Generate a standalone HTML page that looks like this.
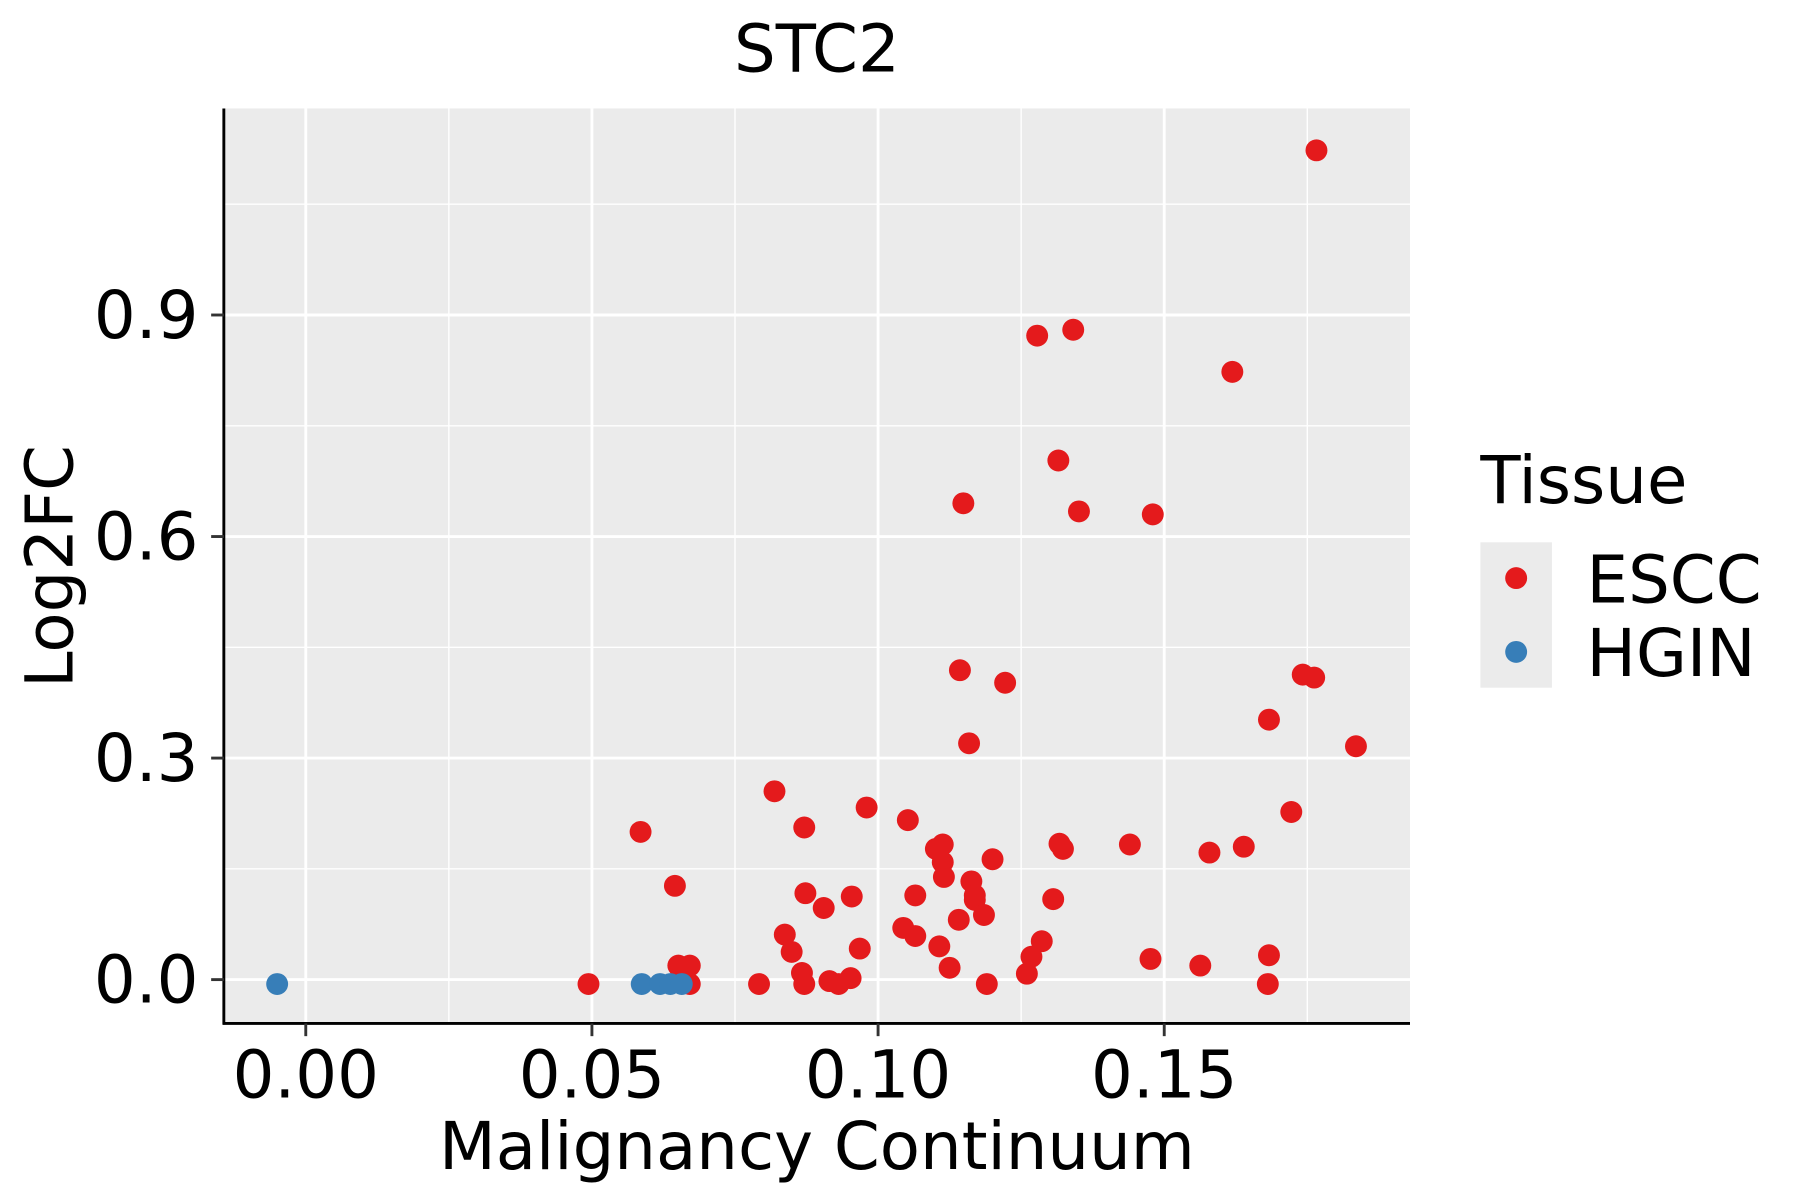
<!DOCTYPE html>
<html><head><meta charset="utf-8"><style>
html,body{margin:0;padding:0;background:#fff;}
svg{display:block;font-family:"DejaVu Sans","Liberation Sans",sans-serif;}
</style></head><body>
<svg id="chart" width="1800" height="1200" viewBox="0 0 1560 1040" xmlns="http://www.w3.org/2000/svg">
<rect width="1560" height="1040" fill="#fff"/>
<rect x="194" y="94" width="1028" height="793" fill="#EBEBEB"/>
<g id="grid"></g>
<g id="points"></g>
<line x1="194" y1="94" x2="194" y2="888" stroke="#000" stroke-width="2.5"/>
<line x1="193" y1="887" x2="1222" y2="887" stroke="#000" stroke-width="2.5"/>
<g id="ticks"></g>
<text x="708" y="62" font-size="57" text-anchor="middle">STC2</text>
<text x="708" y="1013" font-size="57" text-anchor="middle">Malignancy Continuum</text>
<text transform="translate(63,491) rotate(-90)" font-size="57" text-anchor="middle">Log2FC</text>
<g>
<text x="1283" y="436" font-size="57">Tissue</text>
<rect x="1283" y="470" width="62" height="126" fill="#EBEBEB"/>
<circle cx="1314" cy="501" r="9.5" fill="#E41A1C"/>
<circle cx="1314" cy="565" r="9.5" fill="#377EB8"/>
<text x="1375" y="522" font-size="57">ESCC</text>
<text x="1375" y="586" font-size="57">HGIN</text>
</g>
<script>
const xTicks=[0,0.05,0.10,0.15];
const xTickLabels=["0.00","0.05","0.10","0.15"];
const yTicks=[0,0.3,0.6,0.9];
const yTickLabels=["0.0","0.3","0.6","0.9"];
const xMinor=[0.025,0.075,0.125,0.175];
const yMinor=[0.15,0.45,0.75,1.05];
const esccX=[0.1766,0.1278,0.1341,0.1619,0.1315,0.1149,0.1351,0.1480,0.1143,0.1222,0.1742,0.1762,0.1683,0.1159,0.1835,0.0819,0.0980,0.0585,0.0871,0.1052,0.1722,0.1113,0.1101,0.1113,0.1317,0.1323,0.1440,0.1579,0.1639,0.1200,0.1115,0.1163,0.1169,0.1169,0.1185,0.1141,0.0645,0.0873,0.0954,0.0905,0.1065,0.1306,0.1044,0.1065,0.0837,0.0849,0.0968,0.1107,0.1286,0.1268,0.1476,0.1563,0.1683,0.0651,0.0671,0.1125,0.1260,0.0867,0.0494,0.0671,0.0792,0.0871,0.0915,0.0931,0.0952,0.1190,0.1681];
const esccY=[1.123,0.872,0.880,0.823,0.703,0.645,0.634,0.630,0.419,0.402,0.413,0.409,0.352,0.320,0.316,0.255,0.233,0.200,0.206,0.216,0.227,0.183,0.177,0.159,0.184,0.177,0.183,0.172,0.180,0.163,0.139,0.133,0.114,0.108,0.0875,0.081,0.127,0.117,0.1125,0.097,0.114,0.109,0.070,0.059,0.061,0.0375,0.042,0.045,0.052,0.031,0.028,0.019,0.033,0.019,0.019,0.016,0.008,0.009,-0.006,-0.006,-0.006,-0.006,-0.002,-0.006,0.002,-0.006,-0.006];
const hginX=[-0.005,0.0587,0.0619,0.0637,0.0657];
const hginY=[-0.006,-0.006,-0.006,-0.006,-0.006];
const NS="http://www.w3.org/2000/svg";
function sx(v){return 265+v*4960;}
function sy(v){return 849-v*640;}
const grid=document.getElementById('grid');
const pts=document.getElementById('points');
const ticks=document.getElementById('ticks');
function line(parent,x1,y1,x2,y2,stroke,w){const l=document.createElementNS(NS,'line');l.setAttribute('x1',x1);l.setAttribute('y1',y1);l.setAttribute('x2',x2);l.setAttribute('y2',y2);l.setAttribute('stroke',stroke);l.setAttribute('stroke-width',w);parent.appendChild(l);return l;}
xMinor.forEach(v=>{const l=line(grid,sx(v),94,sx(v),887,'#fff',1.2);

});
yMinor.forEach(v=>{const l=line(grid,194,sy(v),1222,sy(v),'#fff',1.2);

});
xTicks.forEach((v,i)=>{const l=line(grid,sx(v),94,sx(v),887,'#fff',2.5);


const t=line(ticks,sx(v),887,sx(v),898,'#333',2.5);


const tx=document.createElementNS(NS,'text');tx.setAttribute('x',sx(v));tx.setAttribute('y',951);tx.setAttribute('font-size','57');tx.setAttribute('text-anchor','middle');tx.textContent=xTickLabels[i];


ticks.appendChild(tx);});
yTicks.forEach((v,i)=>{const l=line(grid,194,sy(v),1222,sy(v),'#fff',2.5);


const t=line(ticks,183,sy(v),194,sy(v),'#333',2.5);


const tx=document.createElementNS(NS,'text');tx.setAttribute('x',172);tx.setAttribute('y',sy(v)+20);tx.setAttribute('font-size','57');tx.setAttribute('text-anchor','end');tx.textContent=yTickLabels[i];


ticks.appendChild(tx);});
function dot(x,y,c,name){const d=document.createElementNS(NS,'circle');d.setAttribute('cx',sx(x));d.setAttribute('cy',sy(y));d.setAttribute('r',9.5);d.setAttribute('fill',c);


pts.appendChild(d);}
esccX.forEach((x,i)=>dot(x,esccY[i],'#E41A1C','escc-point'));
hginX.forEach((x,i)=>dot(x,hginY[i],'#377EB8','hgin-point'));
</script>
</svg>
</body></html>
